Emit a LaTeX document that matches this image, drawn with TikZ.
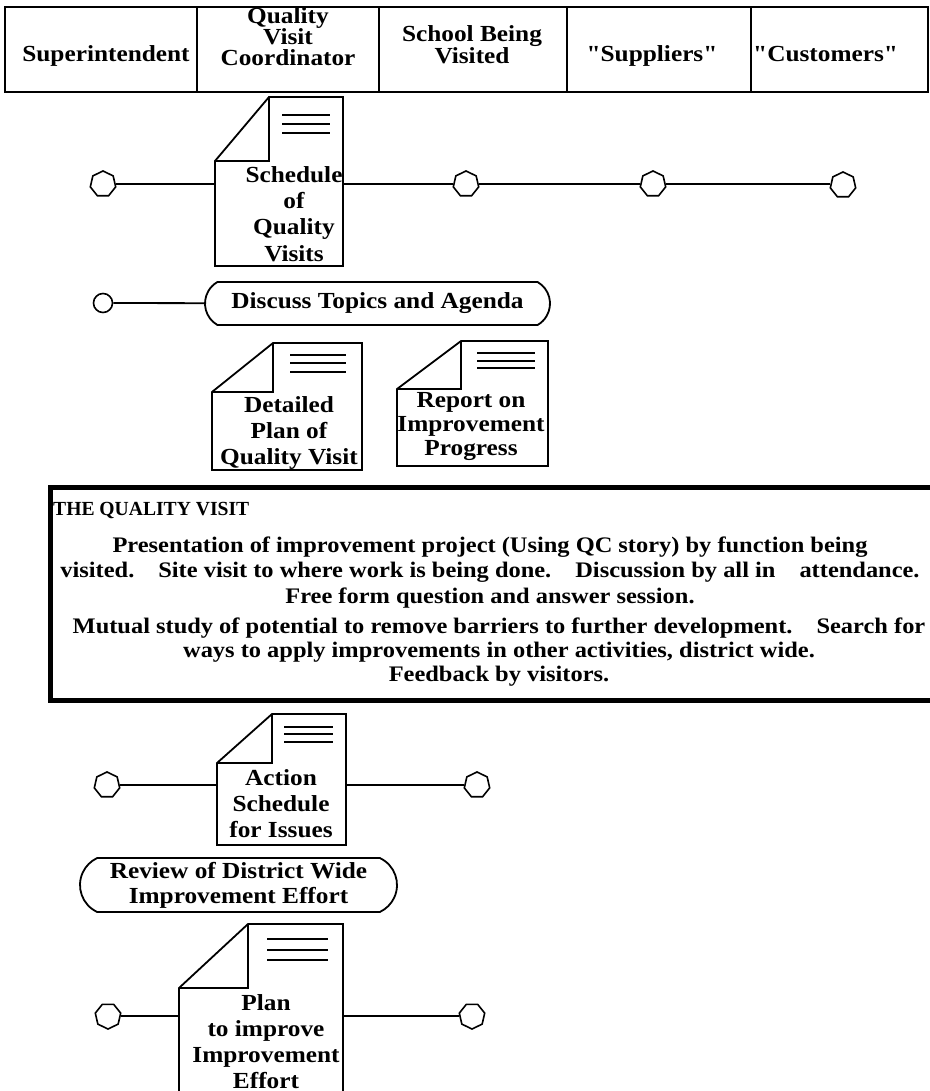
\documentclass[tikz,border=0pt]{standalone}
\usepackage{fontspec}
\newfontfamily\mf[FakeStretch=1.1]{Liberation Serif}
\newfontfamily\mfc[FakeStretch=0.98]{Liberation Serif}
\usetikzlibrary{shapes.geometric,shapes.misc,calc}
\newcommand\docsym[8]{%
  \draw[ln, line join=miter] (#1.south west) -- ($(#1.north west)+(0,#3)$) -- ($(#1.north west)+(#2,0)$) -- (#1.north east) -- (#1.south east) -- cycle;
  \draw[ln] ($(#1.north west)+(0,#3)$) -- ($(#1.north west)+(#2,#3)$) -- ($(#1.north west)+(#2,0)$);
  \foreach \yy in {#6,#7,#8} \draw[ln] ($(#1.north east)+(#4,\yy)$) -- ($(#1.north east)+(#5,\yy)$);
}
\newcommand\dsp{\hspace{24pt}}
\begin{document}
\begin{tikzpicture}[x=1pt,y=-1pt,
  ln/.style={line width=1.8pt},
  hex/.style={draw, line width=1.6pt, regular polygon, regular polygon sides=7, minimum size=26pt, inner sep=0pt},
  dot/.style={draw, line width=1.6pt, circle, minimum size=19pt, inner sep=0pt},
  docn/.style={inner sep=0pt, outer sep=0pt},
  dtxt/.style={font=\mf\bfseries\fontsize{23}{26}\selectfont, align=center, anchor=base, inner sep=0pt},
  htxt/.style={font=\mf\bfseries\fontsize{23}{21}\selectfont, align=center, anchor=base, inner sep=0pt},
  btxt/.style={font=\mf\bfseries\fontsize{22.2}{25.5}\selectfont, align=center, anchor=base, inner sep=0pt},
  pill/.style={draw, line width=1.8pt, rounded rectangle, inner sep=0pt, align=center, font=\mf\bfseries\fontsize{23}{25}\selectfont}]
\useasboundingbox (0,0) rectangle (929,1091);
\fill[white] (0,0) rectangle (929,1091);

% header
\draw[ln] (5,7) rectangle (928,92);
\draw[ln] (197,7) -- (197,92);
\draw[ln] (379,7) -- (379,92);
\draw[line width=2.6pt] (567,7) -- (567,92);
\draw[ln] (751,7) -- (751,92);
\node[htxt] (hsup) at (106,62) {Superintendent};
\node[htxt] (hqvc) at (288,66) {Quality\\Visit\\Coordinator};
\node[htxt] (hsch) at (472,64) {School Being\\Visited};
\node[htxt] (hspl) at (652,62) {"Suppliers"};
\node[htxt, anchor=base west] (hcus) at (753,62) {"Customers"};

% document 1
\node[docn, minimum width=128pt, minimum height=169pt] (d1) at (279,181.5) {};
\docsym{d1}{54}{64}{-61}{-13}{18}{27}{36}
\node[dtxt] (t1) at (294,261) {Schedule\\of\\Quality\\Visits};
\node[hex] (h1) at (103,184) {};
\node[hex] (h2) at (466,184) {};
\node[hex] (h3) at (653,184) {};
\node[hex] (h4) at (843,185) {};
\draw[ln] (h1) -- (h1 -| d1.west);
\draw[ln] (d1.east |- h2) -- (h2);
\draw[ln] (h2) -- (h3);
\draw[ln] (h3) -- (h3 -| h4.west);

% discuss pill
\node[pill, minimum width=345pt, minimum height=43pt, rounded rectangle arc length=120] (p1) at (377.5,303.5) {Discuss Topics and Agenda};
\node[dot] (c1) at (103,303) {};
\draw[ln] (c1) -- (p1);

% documents 2 and 3
\node[docn, minimum width=150pt, minimum height=127pt] (d2) at (287,406.5) {};
\docsym{d2}{61}{49}{-72}{-16}{12}{20}{29}
\node[dtxt] (t2) at (289,464) {Detailed\\Plan of\\Quality Visit};
\node[docn, minimum width=151pt, minimum height=125pt] (d3) at (472.5,403.5) {};
\docsym{d3}{64}{48}{-71}{-13}{12}{20}{27}
\node[dtxt, font=\mf\bfseries\fontsize{23}{24}\selectfont] (t3) at (471,455) {Report on\\Improvement\\Progress};

% quality visit box
\draw[line width=5pt, line join=miter] (945,487.5) -| (50,700.5) -- (945,700.5);
\node[btxt, anchor=base west, font=\mfc\bfseries\fontsize{20}{22}\selectfont] (qvh) at (53,515) {THE QUALITY VISIT};
\node[btxt] (qv1) at (490,603) {Presentation of improvement project (Using QC story) by function being\\visited.\dsp Site visit to where work is being done.\dsp Discussion by all in\dsp attendance.\\Free form question and answer session.};
\node[btxt, font=\mf\bfseries\fontsize{22.2}{24}\selectfont] (qv2) at (499,681) {Mutual study of potential to remove barriers to further development.\dsp Search for\\ways to apply improvements in other activities, district wide.\\Feedback by visitors.};

% document 4
\node[docn, minimum width=129pt, minimum height=131pt] (d4) at (281.5,779.5) {};
\docsym{d4}{55}{49}{-62}{-13}{13}{20}{28}
\node[dtxt] (t4) at (281,837) {Action\\Schedule\\for Issues};
\node[hex] (h5) at (107,785) {};
\node[hex] (h6) at (477,785) {};
\draw[ln] (h5) -- (h5 -| d4.west);
\draw[ln] (d4.east |- h6) -- (h6);

% review pill
\node[pill, minimum width=317pt, minimum height=54pt, rounded rectangle arc length=130] (p2) at (238.5,885) {Review of District Wide\\Improvement Effort};

% document 5
\node[docn, minimum width=164pt, minimum height=186pt] (d5) at (261,1017) {};
\docsym{d5}{69}{64}{-76}{-15}{15}{26}{36}
\node[dtxt] (t5) at (266,1088) {Plan\\to improve\\Improvement\\Effort};
\node[hex, shape border rotate=180] (h7) at (108,1016) {};
\node[hex, shape border rotate=180] (h8) at (472,1016) {};
\draw[ln] (h7) -- (h7 -| d5.west);
\draw[ln] (d5.east |- h8) -- (h8);
\end{tikzpicture}
\end{document}
